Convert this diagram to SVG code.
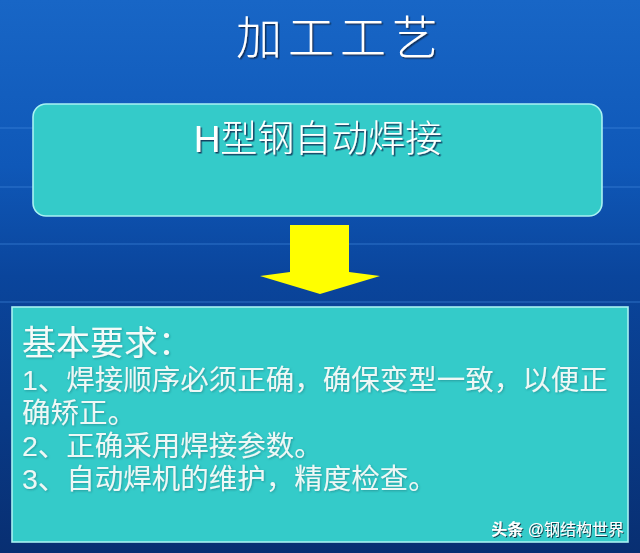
<svg xmlns="http://www.w3.org/2000/svg" width="640" height="553" viewBox="0 0 640 553">
  <defs>
    <linearGradient id="bg" x1="0" y1="0" x2="0" y2="1">
      <stop offset="0" stop-color="#1866c6"/>
      <stop offset="0.3" stop-color="#0f58b8"/>
      <stop offset="0.5" stop-color="#0a459c"/>
      <stop offset="1" stop-color="#082f72"/>
    </linearGradient>
    <linearGradient id="vfade" x1="0" y1="0" x2="0" y2="1">
      <stop offset="0" stop-color="#4a8ce0" stop-opacity="0"/>
      <stop offset="0.35" stop-color="#4a8ce0" stop-opacity="0.35"/>
      <stop offset="1" stop-color="#4a8ce0" stop-opacity="0.35"/>
    </linearGradient>
    <filter id="shadowDark" x="-10%" y="-20%" width="120%" height="140%">
      <feDropShadow dx="1.5" dy="1.5" stdDeviation="0.6" flood-color="#0a2a50" flood-opacity="0.85"/>
    </filter>
    <filter id="shadowSoft" x="-10%" y="-20%" width="120%" height="140%">
      <feDropShadow dx="1" dy="1" stdDeviation="0.8" flood-color="#1a7a80" flood-opacity="0.6"/>
    </filter>
    <filter id="shadowWm" x="-10%" y="-30%" width="120%" height="160%">
      <feDropShadow dx="1" dy="1" stdDeviation="0.5" flood-color="#103040" flood-opacity="0.9"/>
    </filter>
  </defs>
  <style>
    .box { fill: #34cbc9; stroke: #a8f2f2; stroke-width: 1.6; }
    .cjk { font-family: "Liberation Sans", "Noto Sans CJK SC", sans-serif; }
    .grid { stroke: url(#vfade); stroke-width: 1.2; }
    .hgrid { stroke: #3d86dc; stroke-opacity: 0.45; stroke-width: 1.5; }
    .body { fill: #eef8f6; font-size: 28.5px; }
  </style>

  <rect x="0" y="0" width="640" height="553" fill="url(#bg)"/>

  <g id="grid">
    <line class="hgrid" x1="0" y1="128" x2="640" y2="128" stroke-opacity="0.1"/>
    <line class="hgrid" x1="0" y1="187" x2="640" y2="187" stroke-opacity="0.12"/>
    <line class="hgrid" x1="0" y1="244" x2="640" y2="244"/>
    <line class="hgrid" x1="0" y1="302" x2="640" y2="302"/>
    <line class="grid" x1="14" y1="100" x2="14" y2="553"/>
    <line class="grid" x1="78" y1="100" x2="78" y2="553"/>
    <line class="grid" x1="141" y1="100" x2="141" y2="553"/>
    <line class="grid" x1="204" y1="100" x2="204" y2="553"/>
    <line class="grid" x1="267" y1="100" x2="267" y2="553"/>
    <line class="grid" x1="331" y1="100" x2="331" y2="553"/>
    <line class="grid" x1="394" y1="100" x2="394" y2="553"/>
    <line class="grid" x1="455" y1="100" x2="455" y2="553"/>
    <line class="grid" x1="518" y1="100" x2="518" y2="553"/>
    <line class="grid" x1="580" y1="100" x2="580" y2="553"/>
  </g>

  <g id="title">
    <text class="cjk" x="236" y="54" font-size="46" letter-spacing="6" fill="#ffffff" filter="url(#shadowDark)" font-weight="300">加工工艺</text>
  </g>

  <g id="node-top">
    <rect class="box" x="33" y="104" width="569" height="112" rx="13" ry="13"/>
    <text class="cjk" x="318" y="152" font-size="37" fill="#ffffff" text-anchor="middle" filter="url(#shadowDark)" font-weight="300">H型钢自动焊接</text>
  </g>

  <g id="connectors">
    <polygon points="290,225 349,225 349,272 380,276 320,294 260,276 290,272" fill="#ffff00"/>
  </g>

  <g id="node-bottom">
    <rect class="box" x="12" y="307" width="616" height="235"/>
    <text class="cjk" x="22" y="355" font-size="34" fill="#f4fbf9" filter="url(#shadowSoft)">基本要求：</text>
    <text class="cjk body" filter="url(#shadowSoft)"><tspan x="22" y="390">1、焊接顺序必须正确，确保变型一致，以便正</tspan><tspan x="22" y="423">确矫正。</tspan><tspan x="22" y="456">2、正确采用焊接参数。</tspan><tspan x="22" y="489">3、自动焊机的维护，精度检查。</tspan></text>
  </g>

  <g id="watermark">
    <text class="cjk" x="624" y="535" font-size="16" fill="#ffffff" text-anchor="end" filter="url(#shadowWm)"><tspan font-weight="bold">头条</tspan> @钢结构世界</text>
  </g>
</svg>
